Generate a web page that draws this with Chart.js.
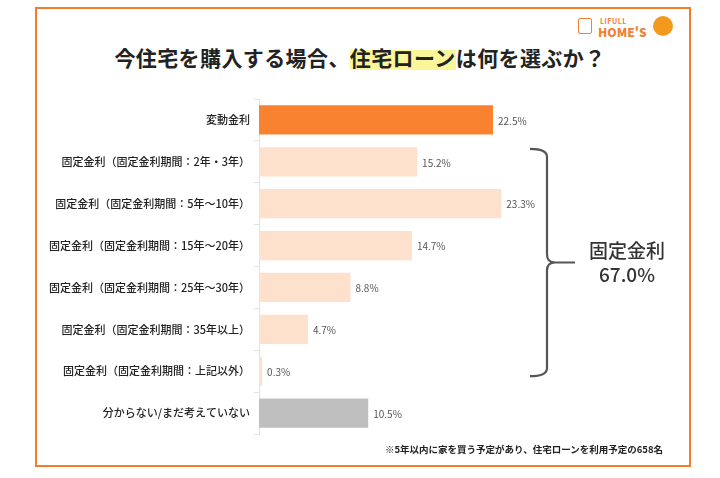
<!DOCTYPE html>
<html lang="ja">
<head>
<meta charset="utf-8">
<script src="https://cdn.jsdelivr.net/npm/chart.js@4"></script>
<style>
  body { margin: 0; background: #fff; font-family: "Noto Sans CJK JP", "Noto Sans", sans-serif; }
  #wrap { position: relative; width: 720px; height: 478px; overflow: hidden; }
  #frame { position: absolute; left: 35px; top: 7px; width: 652px; height: 456px; border: 2px solid #ef7f2f; box-sizing: content-box; }
  #title { position: absolute; left: 0; width: 720px; top: 42px; text-align: center; font-size: 21px; font-weight: bold; color: #222; letter-spacing: 0.4px; }
  #title .hl { background: linear-gradient(transparent 25%, #fbf69a 25%, #fbf69a 92%, transparent 92%); }
  #logo { position: absolute; left: 578px; top: 15px; width: 100px; height: 26px; }
  #logo .l1 { position: absolute; left: 22px; top: 1px; font-size: 7px; font-weight: bold; color: #f08132; letter-spacing: 0.5px; }
  #logo .l2 { position: absolute; left: 20px; top: 8px; font-size: 12px; font-weight: 900; color: #f08132; }
  #logo .ic { position: absolute; left: 0; top: 3px; width: 12px; height: 14px; border: 1.5px solid #f08132; border-radius: 2px; }
  #logo .face { position: absolute; left: 75px; top: 1px; width: 20px; height: 20px; border-radius: 50%; background: #f39a1e; }
  #note { position: absolute; right: 57px; top: 442px; font-size: 9.5px; font-weight: bold; color: #222; }
  canvas { position: absolute; left: 0; top: 0; }
</style>
</head>
<body>
<div id="wrap">
  <div id="frame"></div>
  <div id="logo"><div class="ic"></div><div class="l1">LIFULL</div><div class="l2">HOME'S</div><div class="face"></div></div>
  <div id="title">今住宅を購入する場合、<span class="hl">住宅ローン</span>は何を選ぶか？</div>
  <canvas id="graf" width="720" height="478"></canvas>
  <div id="note">※5年以内に家を買う予定があり、住宅ローンを利用予定の658名</div>
</div>
<script>
// Kategorie a hodnoty (%)
const kategorie = [
  '変動金利',
  '固定金利（固定金利期間：2年・3年）',
  '固定金利（固定金利期間：5年～10年）',
  '固定金利（固定金利期間：15年～20年）',
  '固定金利（固定金利期間：25年～30年）',
  '固定金利（固定金利期間：35年以上）',
  '固定金利（固定金利期間：上記以外）',
  '分からない/まだ考えていない'
];
const hodnoty = [22.5, 15.2, 23.3, 14.7, 8.8, 4.7, 0.3, 10.5];
const barvy = ['#f98230', '#fde1cc', '#fde1cc', '#fde1cc', '#fde1cc', '#fde1cc', '#fde1cc', '#bfbfbf'];
const souhrnText = ['固定金利', '67.0%'];

// popisky hodnot + složená závorka
const popiskyPlugin = {
  id: 'popisky',
  afterDatasetsDraw(chart) {
    const ctx = chart.ctx;
    const meta = chart.getDatasetMeta(0);
    ctx.save();
    ctx.font = '10px "Noto Sans CJK JP", "Noto Sans", sans-serif';
    ctx.fillStyle = '#555';
    ctx.textAlign = 'left';
    ctx.textBaseline = 'middle';
    meta.data.forEach((bar, i) => {
      ctx.fillText(hodnoty[i].toFixed(1) + '%', bar.x + 5, bar.y + 1);
    });

    // závorka přes řádky 1..6
    const top = meta.data[1].y - 13;
    const bottom = meta.data[6].y + 5;
    const mid = (top + bottom) / 2;
    const x0 = 530, x1 = 547, xTip = 575;
    ctx.strokeStyle = '#555';
    ctx.lineWidth = 2.2;
    ctx.beginPath();
    ctx.moveTo(x0, top);
    ctx.quadraticCurveTo(x1, top, x1, top + 8);
    ctx.lineTo(x1, mid - 8);
    ctx.quadraticCurveTo(x1, mid, xTip - 20, mid);
    ctx.lineTo(xTip, mid);
    ctx.moveTo(xTip - 20, mid);
    ctx.quadraticCurveTo(x1, mid, x1, mid + 8);
    ctx.lineTo(x1, bottom - 8);
    ctx.quadraticCurveTo(x1, bottom, x0, bottom);
    ctx.stroke();

    ctx.fillStyle = '#333';
    ctx.textAlign = 'center';
    ctx.font = '500 19px "Noto Sans CJK JP", "Noto Sans", sans-serif';
    ctx.fillText(souhrnText[0], 627, mid - 12);
    ctx.fillText(souhrnText[1], 627, mid + 12);
    ctx.restore();
  }
};

new Chart(document.getElementById('graf').getContext('2d'), {
  type: 'bar',
  data: {
    labels: kategorie,
    datasets: [{
      data: hodnoty,
      backgroundColor: barvy,
      borderWidth: 0,
      barPercentage: 0.7,
      categoryPercentage: 1
    }]
  },
  options: {
    indexAxis: 'y',
    responsive: false,
    animation: false,
    layout: { padding: { top: 99, bottom: 44, right: 149, left: 0 } },
    plugins: { legend: { display: false }, tooltip: { enabled: false } },
    scales: {
      x: { display: false, min: 0, max: 30 },
      y: {
        afterFit: s => { s.width = 259; },
        border: { display: true, color: '#e2e2e2', width: 1 },
        grid: { display: true, drawOnChartArea: false, tickLength: 5, color: '#e2e2e2' },
        ticks: {
          color: '#222',
          padding: 4,
          font: { size: 11, weight: '500', family: '"Noto Sans CJK JP", "Noto Sans", sans-serif' }
        }
      }
    }
  },
  plugins: [popiskyPlugin]
});
</script>
</body>
</html>
